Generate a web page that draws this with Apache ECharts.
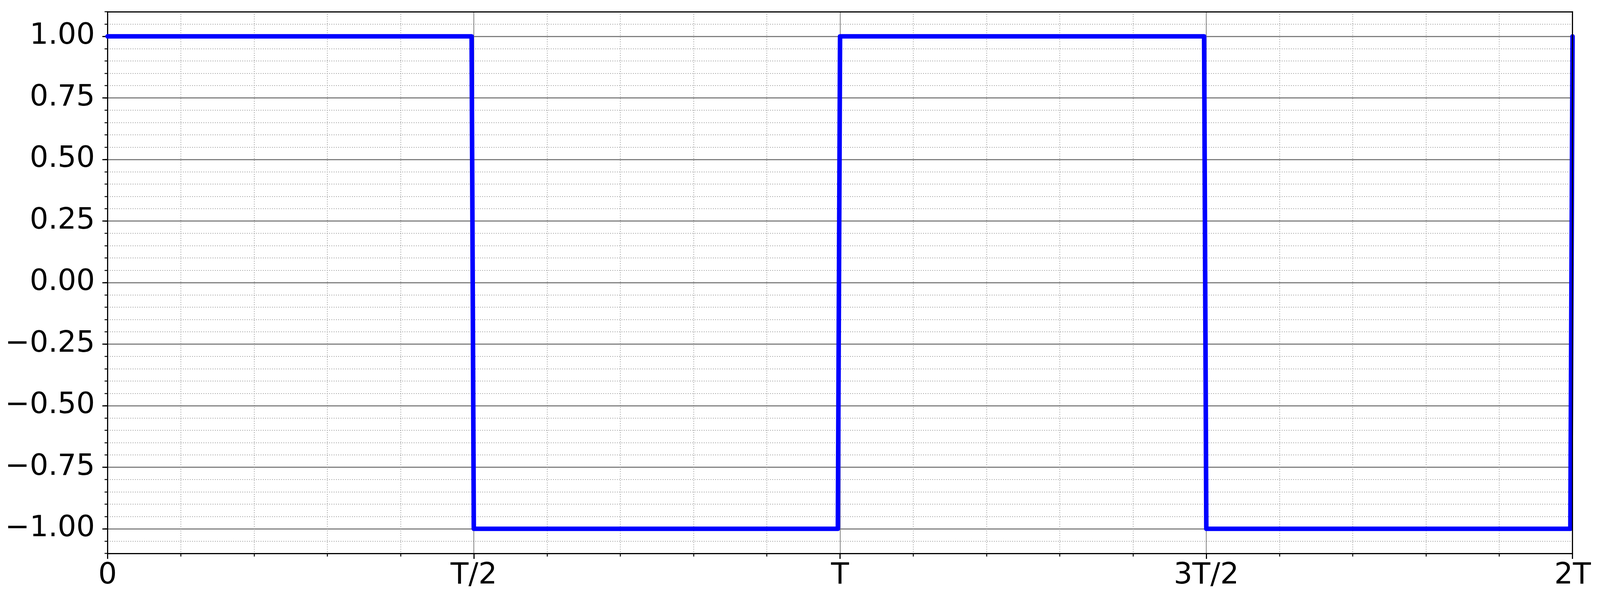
<!DOCTYPE html>
<html>
<head>
<meta charset="utf-8">
<script src="https://cdn.jsdelivr.net/npm/echarts@6/dist/echarts.min.js"></script>
<style>
  html, body { margin: 0; padding: 0; background: #fff; overflow: hidden; }
  #chart { width: 100vw; height: 100vh; }
</style>
</head>
<body>
<div id="chart"></div>
<script>
// time in periods (T = 1), value of the square wave
var waveT = [0, 0.497, 0.5, 0.997, 1, 1.497, 1.5, 1.997, 2];
var waveY = [1, 1, -1, -1, 1, 1, -1, -1, 1];

// tick labels
var xTickValues = [0, 0.5, 1, 1.5, 2];
var xTickLabels = ['0', 'T/2', 'T', '3T/2', '2T'];
var yTickValues = [-1, -0.75, -0.5, -0.25, 0, 0.25, 0.5, 0.75, 1];

var FONT = 'DejaVu Sans';

// layout was measured on 4314 x 1548, stretch it to the real window
var kx = window.innerWidth / 4314;
var ky = window.innerHeight / 1548;
var k = (kx + ky) / 2;
function px(v) { return v * k; }

var pts = [];
for (var i = 0; i < waveT.length; i++) {
    pts.push([waveT[i], waveY[i]]);
}

function xLabel(v) {
    for (var i = 0; i < xTickValues.length; i++) {
        if (Math.abs(xTickValues[i] - v) < 1e-6) return xTickLabels[i];
    }
    return '';
}
function yLabel(v) {
    var s = Math.abs(v) < 1e-9 ? '0.00' : v.toFixed(2);
    return s.replace('-', '\u2212');
}

var myChart = echarts.init(document.getElementById('chart'));

var blackLine = { color: '#000', width: px(3) };
var dotted = { color: '#999', width: px(2), type: [px(2), px(4)] };

var option = {
    backgroundColor: '#fff',
    animation: false,
    grid: { left: 290 * kx, right: 74 * kx, top: 30 * ky, bottom: 132 * ky },
    xAxis: [
        {
            type: 'value', position: 'bottom',
            min: 0, max: 2, interval: 0.5,
            axisLine: { show: true, onZero: false, lineStyle: blackLine },
            axisTick: { show: true, length: 14 * ky, lineStyle: blackLine },
            minorTick: { show: true, splitNumber: 5, length: 8 * ky, lineStyle: { color: '#000', width: px(2.5) } },
            axisLabel: {
                show: true, margin: 20 * ky, fontFamily: FONT, fontSize: px(77), color: '#000',
                showMinLabel: true, showMaxLabel: true, formatter: xLabel
            },
            splitLine: { show: true, lineStyle: { color: '#808080', width: px(2) } },
            minorSplitLine: { show: true, lineStyle: dotted }
        },
        {
            // top spine
            type: 'value', position: 'top', min: 0, max: 2, z: 10,
            axisLine: { show: true, onZero: false, lineStyle: blackLine },
            axisTick: { show: false }, axisLabel: { show: false }, splitLine: { show: false }
        }
    ],
    yAxis: [
        {
            // minor ticks and dotted grid every 0.05
            type: 'value', position: 'left',
            min: -1.1, max: 1.1, interval: 0.05,
            axisLine: { show: true, onZero: false, lineStyle: blackLine },
            axisTick: { show: true, length: 8 * kx, lineStyle: { color: '#000', width: px(2.5) } },
            axisLabel: { show: false },
            splitLine: { show: true, lineStyle: dotted }
        },
        {
            // major ticks, labels and solid grid every 0.25
            type: 'value', position: 'left',
            min: -1.1, max: 1.1,
            axisLine: { show: false },
            axisTick: { show: true, length: 14 * kx, lineStyle: blackLine, customValues: yTickValues },
            axisLabel: {
                show: true, margin: 34 * kx, fontFamily: FONT, fontSize: px(77), color: '#000',
                customValues: yTickValues, formatter: yLabel
            },
            splitLine: { show: true, lineStyle: { color: '#808080', width: px(3) } }
        },
        {
            // right spine
            type: 'value', position: 'right', min: -1.1, max: 1.1, z: 10,
            axisLine: { show: true, onZero: false, lineStyle: blackLine },
            axisTick: { show: false }, axisLabel: { show: false }, splitLine: { show: false }
        }
    ],
    series: [
        {
            type: 'line',
            data: pts,
            xAxisIndex: 0, yAxisIndex: 0,
            showSymbol: false,
            symbol: 'none',
            clip: true,
            z: 5,
            lineStyle: { color: '#0000ff', width: px(12), join: 'round', cap: 'round' }
        }
    ]
};

myChart.setOption(option);
</script>
</body>
</html>
